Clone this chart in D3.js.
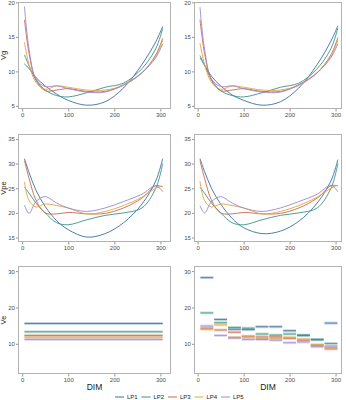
<!DOCTYPE html>
<html><head><meta charset="utf-8">
<script src="https://cdn.jsdelivr.net/npm/d3@7"></script>
<style>body{margin:0;background:#fff}svg{display:block}text{font-family:"Liberation Sans",Arial,sans-serif}</style>
</head><body><svg id="c" width="346" height="400"></svg>
<script>
const lines = ["LP1","LP2","LP3","LP4","LP5"];
const colors = ["#3b6ea3","#3a9484","#c8694a","#e0a53a","#9b86d6"];
const dims = [5,15,30,50,75,100,140,180,220,260,290,305];
// Vg, left panel
const vgLeft = [
  [11.1,10.4,9.1,7.9,6.7,5.8,5.1,5.6,7.6,11.0,14.3,16.5],
  [12.4,10.8,8.8,7.3,6.5,6.3,6.9,7.7,8.3,10.4,13.3,16.2],
  [17.5,12.6,8.7,7.2,7.3,7.5,7.1,7.1,8.0,9.8,12.4,14.8],
  [14.2,11.0,8.4,7.4,7.9,7.7,7.3,7.3,8.0,9.8,12.2,14.5],
  [19.4,13.2,8.9,7.8,7.9,7.5,7.0,7.0,8.1,9.8,12.0,14.0]
];
const vgRight = [
  [12.0,10.9,9.3,7.9,6.6,5.8,5.1,5.6,7.6,11.0,14.4,16.6],
  [12.3,10.9,8.8,7.2,6.5,6.3,6.9,7.7,8.3,10.4,13.3,16.3],
  [17.5,12.6,8.7,7.2,7.3,7.5,7.1,7.1,8.0,9.8,12.4,14.9],
  [14.1,11.0,8.4,7.4,7.9,7.7,7.3,7.3,8.0,9.8,12.2,14.5],
  [19.3,13.2,8.9,7.8,7.9,7.5,7.0,7.0,8.1,9.8,12.0,14.0]
];
// Vpe
const vpeLeft = [
  [31.0,28.2,24.6,21.3,18.4,16.6,15.1,15.8,18.0,21.8,26.5,31.0],
  [25.2,24.0,22.0,20.0,18.0,17.6,18.6,19.5,20.0,21.0,25.0,30.0],
  [30.6,27.0,22.6,20.0,19.8,20.1,19.8,19.9,21.0,23.0,25.5,25.3],
  [26.3,22.5,21.2,21.8,21.5,21.0,19.8,20.3,21.5,23.2,25.0,25.4],
  [21.6,19.9,22.3,23.3,22.0,21.0,20.3,21.0,22.3,23.8,25.5,24.3]
];
const vpeRight = [
  [31.0,28.4,25.0,21.8,18.9,17.0,15.8,16.3,18.3,22.0,26.5,30.8],
  [25.2,24.0,22.0,20.0,18.0,17.6,18.6,19.5,20.0,21.0,25.0,30.0],
  [30.6,27.0,22.6,20.0,19.8,20.1,19.8,19.9,21.0,23.0,25.5,25.5],
  [26.4,22.5,21.2,21.8,21.5,21.0,19.8,20.3,21.5,23.2,25.0,25.6],
  [21.5,20.0,22.3,23.3,22.0,21.0,20.3,21.0,22.3,23.8,25.6,24.3]
];
// Ve, left: constant over lactation
const veConst = [15.6,13.3,12.3,11.8,11.2];
// Ve, right: one value per 30-day period
const periodStart = [5,35,65,95,125,155,185,215,245,275];
const periodEnd   = [35,65,95,125,155,185,215,245,275,305];
const vePeriods = [
  [28.2,16.7,14.0,13.9,14.7,14.7,13.6,12.3,11.2,15.7],
  [18.5,15.8,14.5,14.3,12.7,12.4,12.7,12.4,11.1,10.1],
  [14.3,13.8,13.2,12.1,11.9,11.9,11.5,11.0,9.6,8.6],
  [14.0,15.2,11.8,11.8,11.4,11.5,11.8,11.3,9.8,9.0],
  [14.9,12.3,11.6,11.2,11.2,11.0,10.3,10.5,9.2,9.4]
];
const xTicks = [0,100,200,300];
const vgTicks = [5,10,15,20];
const vpeTicks = [15,20,25,30,35];
const veTicks = [10,20,30];

const svg = d3.select("#c");
const cols = [{x0:18,x1:171,dom:[-9,323]},{x0:194,x1:342,dom:[-8,314]}];
const rows = [
  {y0:2,y1:109,dom:[4.55,20.05],ticks:vgTicks,title:"Vg"},
  {y0:134,y1:242,dom:[14.1,36.0],ticks:vpeTicks,title:"Vpe"},
  {y0:266,y1:374,dom:[1.7,31.4],ticks:veTicks,title:"Ve"}
];
const tickCol = "#4d4d4d";

function panel(ci, ri, draw){
  const c = cols[ci], r = rows[ri];
  const x = d3.scaleLinear().domain(c.dom).range([c.x0,c.x1]);
  const y = d3.scaleLinear().domain(r.dom).range([r.y1,r.y0]);
  const g = svg.append("g");
  draw(g,x,y);
  g.append("rect").attr("x",c.x0+0.5).attr("y",r.y0+0.5)
    .attr("width",c.x1-c.x0-1).attr("height",r.y1-r.y0-1)
    .attr("fill","none").attr("stroke","#b3b3b3").attr("stroke-width",1);
  const ax = svg.append("g").attr("transform",`translate(0,${r.y1})`)
    .call(d3.axisBottom(x).tickValues(xTicks).tickSize(2.5).tickPadding(1.5));
  const ay = svg.append("g").attr("transform",`translate(${c.x0},0)`)
    .call(d3.axisLeft(y).tickValues(r.ticks).tickSize(2).tickPadding(1.2));
  [ax,ay].forEach(a=>{
    a.select(".domain").remove();
    a.selectAll("line").attr("stroke","#4d4d4d").attr("stroke-width",0.6);
    a.selectAll("text").attr("fill",tickCol).style("font-size","6px").style("font-family","Liberation Sans, Arial, sans-serif");
  });
  if(ci===0){
    svg.append("text").attr("transform",`translate(4,${(r.y0+r.y1)/2}) rotate(-90)`)
      .attr("text-anchor","middle").attr("dominant-baseline","middle")
      .style("font-size","7.5px").attr("fill","#1a1a1a").text(r.title);
  }
  if(ri===2){
    svg.append("text").attr("x",(c.x0+c.x1)/2).attr("y",390)
      .attr("text-anchor","middle").style("font-size","8.5px").attr("fill","#1a1a1a").text("DIM");
  }
}

function curves(data){
  return (g,x,y)=>{
    const line = d3.line().x((d,i)=>x(dims[i])).y(d=>y(d)).curve(d3.curveCatmullRom.alpha(0.5));
    data.forEach((s,k)=>{
      g.append("path").attr("d",line(s)).attr("fill","none")
        .attr("stroke",colors[k]).attr("stroke-width",0.9);
    });
  };
}

panel(0,0,curves(vgLeft));
panel(1,0,curves(vgRight));
panel(0,1,curves(vpeLeft));
panel(1,1,curves(vpeRight));

panel(0,2,(g,x,y)=>{
  veConst.forEach((v,k)=>{
    g.append("rect").attr("x",x(5)).attr("width",x(305)-x(5))
      .attr("y",y(v+0.4)).attr("height",y(v-0.4)-y(v+0.4))
      .attr("fill",colors[k]).attr("opacity",0.3);
    g.append("line").attr("x1",x(5)).attr("x2",x(305)).attr("y1",y(v)).attr("y2",y(v))
      .attr("stroke",colors[k]).attr("stroke-width",0.8);
  });
});
panel(1,2,(g,x,y)=>{
  vePeriods.forEach((s,k)=>{
    s.forEach((v,i)=>{
      const a = x(periodStart[i]+1), b = x(periodEnd[i]-1);
      g.append("rect").attr("x",a).attr("width",b-a)
        .attr("y",y(v+0.4)).attr("height",y(v-0.4)-y(v+0.4))
        .attr("fill",colors[k]).attr("opacity",0.3);
      g.append("line").attr("x1",a).attr("x2",b).attr("y1",y(v)).attr("y2",y(v))
        .attr("stroke",colors[k]).attr("stroke-width",0.8);
    });
  });
});

// legend
const lg = svg.append("g");
let lx = 115;
lines.forEach((n,k)=>{
  lg.append("line").attr("x1",lx).attr("x2",lx+9).attr("y1",397).attr("y2",397)
    .attr("stroke",colors[k]).attr("stroke-width",1);
  lg.append("text").attr("x",lx+12).attr("y",397).attr("dominant-baseline","middle")
    .style("font-size","6px").attr("fill","#1a1a1a").text(n);
  lx += 26.5;
});
</script></body></html>
